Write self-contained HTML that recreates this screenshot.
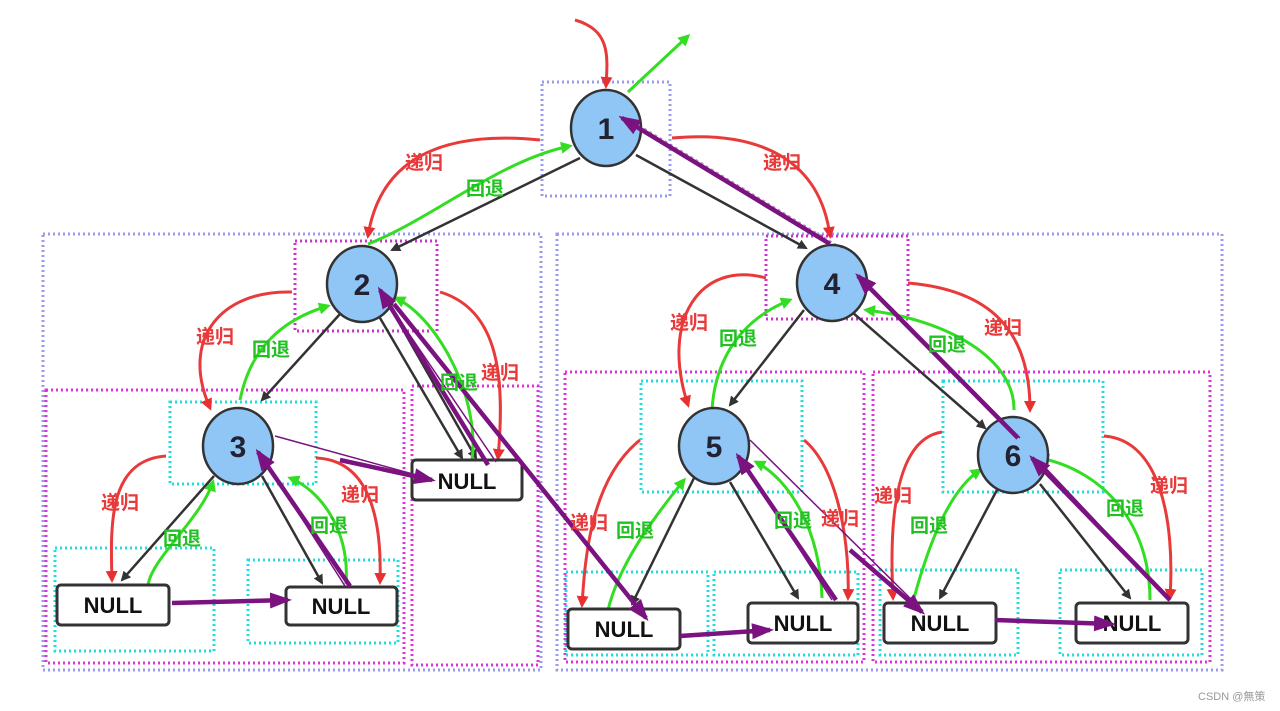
<!DOCTYPE html>
<html><head><meta charset="utf-8"><style>
body{margin:0;background:#fff;width:1280px;height:711px;overflow:hidden}
svg{display:block}
.t{font-family:"Liberation Sans","Noto Sans CJK SC",sans-serif;font-size:19px;font-weight:bold}
.r{fill:#e83a3a}.g{fill:#22c022}
.n{font-family:"Liberation Sans",sans-serif;font-weight:bold;font-size:30px;fill:#223}
.nl{font-family:"Liberation Sans",sans-serif;font-weight:bold;font-size:22px;fill:#111}
</style></head><body>
<svg width="1280" height="711" viewBox="0 0 1280 711">
<defs>
<marker id="ak" markerWidth="10" markerHeight="10" refX="8" refY="5" orient="auto" markerUnits="userSpaceOnUse"><path d="M0,0 L10,5 L0,10 z" fill="#333"/></marker>
<marker id="ar" markerWidth="12" markerHeight="12" refX="9" refY="6" orient="auto" markerUnits="userSpaceOnUse"><path d="M0,0 L12,6 L0,12 z" fill="#e83030"/></marker>
<marker id="ag" markerWidth="12" markerHeight="12" refX="9" refY="6" orient="auto" markerUnits="userSpaceOnUse"><path d="M0,0 L12,6 L0,12 z" fill="#33dd22"/></marker>
<marker id="ap" markerWidth="22" markerHeight="16" refX="18" refY="8" orient="auto" markerUnits="userSpaceOnUse"><path d="M0,0 L22,8 L0,16 z" fill="#7a1280"/></marker>
</defs>
<g fill="none" stroke-width="3" stroke-dasharray="2,3">
<rect x="542" y="82" width="128" height="114" stroke="#9a9aee"/>
<rect x="43" y="234" width="498" height="436" stroke="#9a9aee"/>
<rect x="557" y="234" width="665" height="436" stroke="#9a9aee"/>
<rect x="295" y="241" width="142" height="90" stroke="#cc33cc"/>
<rect x="766" y="236" width="142" height="83" stroke="#cc33cc"/>
<rect x="46" y="390" width="358" height="273" stroke="#dd33dd"/>
<rect x="412" y="386" width="126" height="279" stroke="#dd33dd"/>
<rect x="565" y="372" width="299" height="290" stroke="#dd33dd"/>
<rect x="873" y="372" width="337" height="290" stroke="#dd33dd"/>
<g stroke="#22dddd">
<rect x="170" y="402" width="146" height="82"/>
<rect x="55" y="548" width="159" height="103"/>
<rect x="248" y="560" width="150" height="83"/>
<rect x="641" y="381" width="161" height="111"/>
<rect x="943" y="381" width="160" height="111"/>
<rect x="566" y="572" width="142" height="83"/>
<rect x="714" y="572" width="144" height="83"/>
<rect x="880" y="570" width="138" height="85"/>
<rect x="1060" y="570" width="142" height="85"/>
</g></g>
<g stroke="#333" stroke-width="2.5" marker-end="url(#ak)" fill="none">
<line x1="580" y1="158" x2="392" y2="250"/>
<line x1="636" y1="155" x2="806" y2="248"/>
<line x1="340" y1="314" x2="262" y2="400"/>
<line x1="380" y1="318" x2="462" y2="458"/>
<line x1="393" y1="312" x2="476" y2="458"/>
<line x1="214" y1="476" x2="122" y2="580"/>
<line x1="262" y1="476" x2="322" y2="583"/>
<line x1="804" y1="310" x2="730" y2="405"/>
<line x1="852" y1="312" x2="985" y2="428"/>
<line x1="694" y1="478" x2="632" y2="604"/>
<line x1="730" y1="482" x2="798" y2="598"/>
<line x1="998" y1="488" x2="940" y2="598"/>
<line x1="1040" y1="484" x2="1130" y2="598"/>
</g>
<g stroke="#e83a3a" stroke-width="3" fill="none" marker-end="url(#ar)">
<path d="M575,20 C610,30 608,55 606,86"/>
<path d="M540,140 C440,130 380,160 368,236"/>
<path d="M672,138 C760,130 820,160 830,236"/>
<path d="M292,292 C220,290 180,340 210,408"/>
<path d="M440,292 C500,310 505,380 498,458"/>
<path d="M766,278 C700,260 660,320 688,405"/>
<path d="M908,283 C990,290 1030,330 1030,410"/>
<path d="M166,456 C110,460 110,520 112,580"/>
<path d="M316,458 C370,460 382,520 380,582"/>
<path d="M640,440 C590,480 585,560 582,605"/>
<path d="M804,440 C840,470 850,550 848,598"/>
<path d="M942,432 C890,440 890,540 893,598"/>
<path d="M1104,436 C1160,440 1175,520 1170,598"/>
</g>
<g stroke="#33dd22" stroke-width="3" fill="none" marker-end="url(#ag)">
<path d="M628,92 L688,36"/>
<path d="M368,244 C430,220 500,160 570,146"/>
<path d="M240,400 C250,350 280,320 328,306"/>
<path d="M472,460 C480,400 440,320 396,298"/>
<path d="M148,586 C150,560 200,520 213,482"/>
<path d="M346,584 C350,530 320,490 290,478"/>
<path d="M712,410 C715,360 740,320 790,300"/>
<path d="M1014,410 C1015,360 950,320 866,310"/>
<path d="M608,610 C620,560 660,510 684,480"/>
<path d="M822,598 C820,530 790,480 756,462"/>
<path d="M914,598 C930,540 950,490 980,470"/>
<path d="M1150,600 C1150,520 1100,470 1040,458"/>
</g>
<g fill="#90c6f6" stroke="#333" stroke-width="2.5">
<ellipse cx="606" cy="128" rx="35" ry="38"/>
<ellipse cx="362" cy="284" rx="35" ry="38"/>
<ellipse cx="832" cy="283" rx="35" ry="38"/>
<ellipse cx="238" cy="446" rx="35" ry="38"/>
<ellipse cx="714" cy="446" rx="35" ry="38"/>
<ellipse cx="1013" cy="455" rx="35" ry="38"/>
</g>
<g class="n" text-anchor="middle">
<text x="606" y="139">1</text><text x="362" y="295">2</text><text x="832" y="294">4</text>
<text x="238" y="457">3</text><text x="714" y="457">5</text><text x="1013" y="466">6</text>
</g>
<g fill="#fff" stroke="#333" stroke-width="3">
<rect x="412" y="460" width="110" height="40" rx="4"/>
<rect x="57" y="585" width="112" height="40" rx="4"/>
<rect x="286" y="587" width="111" height="38" rx="4"/>
<rect x="568" y="609" width="112" height="40" rx="4"/>
<rect x="748" y="603" width="110" height="40" rx="4"/>
<rect x="884" y="603" width="112" height="40" rx="4"/>
<rect x="1076" y="603" width="112" height="40" rx="4"/>
</g>
<g class="nl" text-anchor="middle">
<text x="467" y="489">NULL</text><text x="113" y="613">NULL</text><text x="341" y="614">NULL</text>
<text x="624" y="637">NULL</text><text x="803" y="631">NULL</text><text x="940" y="631">NULL</text><text x="1132" y="631">NULL</text>
</g>
<g stroke="#7a1280" fill="none">
<g stroke-width="1.5">
<line x1="496" y1="462" x2="386" y2="300"/>
<line x1="1020" y1="438" x2="862" y2="282"/>
<line x1="1168" y1="598" x2="1040" y2="462"/>
<line x1="832" y1="600" x2="744" y2="462"/>
<line x1="750" y1="440" x2="918" y2="606"/>
<line x1="275" y1="436" x2="420" y2="476"/>
<line x1="345" y1="586" x2="262" y2="456"/>
</g>
<g stroke-width="4.5" marker-end="url(#ap)">
<line x1="172" y1="603" x2="288" y2="600"/>
<line x1="340" y1="460" x2="432" y2="480"/>
<line x1="350" y1="586" x2="258" y2="452"/>
<line x1="488" y1="465" x2="380" y2="290"/>
<line x1="394" y1="304" x2="646" y2="618"/>
<line x1="680" y1="636" x2="770" y2="630"/>
<line x1="836" y1="600" x2="738" y2="456"/>
<line x1="850" y1="550" x2="922" y2="612"/>
<line x1="995" y1="620" x2="1112" y2="624"/>
<line x1="1170" y1="600" x2="1032" y2="458"/>
<line x1="1018" y1="438" x2="858" y2="276"/>
<line x1="830" y1="244" x2="622" y2="118"/>
</g>
<line x1="842" y1="248" x2="634" y2="122" stroke-width="1.2" stroke-dasharray="3,3" opacity="0.5"/>
</g>
<g class="t">
<g class="r">
<text x="405" y="169">递归</text><text x="763" y="169">递归</text><text x="196" y="343">递归</text>
<text x="670" y="329">递归</text><text x="984" y="334">递归</text><text x="481" y="379">递归</text>
<text x="101" y="509">递归</text><text x="341" y="501">递归</text><text x="570" y="529">递归</text>
<text x="821" y="525">递归</text><text x="874" y="502">递归</text><text x="1150" y="492">递归</text>
</g>
<g class="g">
<text x="466" y="195">回退</text><text x="252" y="356">回退</text><text x="440" y="389">回退</text>
<text x="163" y="545">回退</text><text x="310" y="532">回退</text><text x="719" y="345">回退</text>
<text x="928" y="351">回退</text><text x="616" y="537">回退</text><text x="774" y="527">回退</text>
<text x="910" y="532">回退</text><text x="1106" y="515">回退</text>
</g></g>
<text x="1198" y="700" font-family="Liberation Sans,Noto Sans CJK SC,sans-serif" font-size="11" fill="#999">CSDN @無策</text>
</svg>
</body></html>
